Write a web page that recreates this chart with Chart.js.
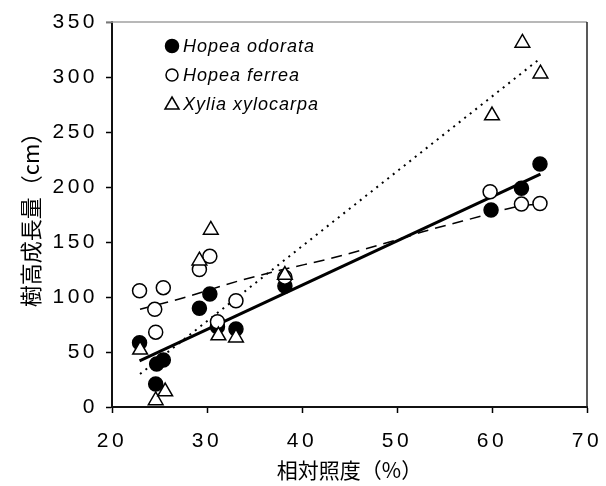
<!DOCTYPE html>
<html><head><meta charset="utf-8">
<script src="https://cdn.jsdelivr.net/npm/chart.js@4/dist/chart.umd.min.js"></script>
<style>html,body{margin:0;padding:0;background:#fff;overflow:hidden}#wrap{width:606px;height:486px;position:relative}</style>
</head><body><div id="wrap"><canvas id="c" width="606" height="486" style="width:606px;height:486px"></canvas></div>
<script>
// Relative light (%) and height growth (cm) per species
const speciesNames = ['Hopea odorata', 'Hopea ferrea', 'Xylia xylocarpa'];
const odorataX = [22.9, 24.7, 25.4, 24.6, 29.2, 30.3, 33.05, 31.1, 38.2, 59.9, 63.1, 65.05];
const odorataY = [58.5, 39, 42.7, 21, 89.7, 102.7, 71, 73, 110, 179, 198.8, 221];
const ferreaX = [22.9, 25.4, 24.5, 24.6, 29.2, 30.3, 33.05, 31.1, 38.2, 59.8, 63.1, 65.05];
const ferreaY = [105.7, 108.5, 88.8, 68, 125, 137, 96.6, 77.5, 118, 195.7, 184.5, 185];
const xyliaX = [22.96, 24.6, 25.6, 29.2, 30.4, 33.05, 31.2, 38.2, 60, 63.2, 65.1];
const xyliaY = [52, 6, 14, 133, 161, 63, 65, 120, 265, 331, 303];
// Trend lines
const odorataTrendX = [22.9, 65.1];
const odorataTrendY = [42, 211.8];
const xyliaTrendX = [22.95, 65.1];
const xyliaTrendY = [30, 317];
const ferreaTrendX = [22.95, 27, 33.5, 38, 43, 50, 53, 59.5, 62, 65.1];
const ferreaTrendY = [88.8, 98, 115, 125, 135, 152, 160, 175, 181, 185];
const xTicks = [20, 30, 40, 50, 60, 70];
const yTicks = [0, 50, 100, 150, 200, 250, 300, 350];
const xTitle = '相対照度（%）';
const yTitle = '樹高成長量（cm）';

const pts = (xs, ys) => xs.map((x, i) => ({x, y: ys[i]}));

// slightly wider letter spacing for tick labels only
const spacingPlugin = {
  id: 'tickSpacing',
  beforeDraw(chart) {
    ['x', 'y'].forEach(id => {
      const s = chart.scales[id];
      if (s && !s._spaced) {
        const orig = s.drawLabels.bind(s);
        s.drawLabels = function (ca) {
          const ctx = this.ctx;
          ctx.save();
          ctx.letterSpacing = '3.5px';
          orig(ca);
          ctx.restore();
        };
        s._spaced = true;
      }
    });
  }
};

const framePlugin = {
  id: 'frame',
  afterDatasetsDraw(chart) {
    const {ctx, chartArea: a} = chart;
    ctx.save();
    ctx.lineWidth = 1.5;
    ctx.strokeStyle = '#a0a0a0';
    ctx.beginPath(); ctx.moveTo(a.left - 6, a.top); ctx.lineTo(a.right, a.top); ctx.stroke();
    ctx.strokeStyle = '#222';
    ctx.beginPath(); ctx.moveTo(a.right, a.top); ctx.lineTo(a.right, a.bottom); ctx.stroke();
    ctx.restore();
  }
};

const legendPlugin = {
  id: 'customLegend',
  afterDraw(chart) {
    const {ctx} = chart;
    const mx = 172, tx = 183;
    const rows = [46, 75, 104];
    ctx.save();
    ctx.font = 'italic 18px "Liberation Sans", Arial, sans-serif';
    ctx.letterSpacing = '1px';
    ctx.textBaseline = 'middle';
    ctx.textAlign = 'left';
    speciesNames.forEach((name, i) => {
      const y = rows[i];
      ctx.lineWidth = 1.5;
      ctx.strokeStyle = '#000';
      ctx.beginPath();
      if (i === 0) { ctx.arc(mx, y, 6.5, 0, Math.PI * 2); ctx.fillStyle = '#000'; ctx.fill(); ctx.stroke(); }
      else if (i === 1) { ctx.arc(mx, y, 6, 0, Math.PI * 2); ctx.fillStyle = '#fff'; ctx.fill(); ctx.stroke(); }
      else { ctx.moveTo(mx, y - 7); ctx.lineTo(mx + 7, y + 5); ctx.lineTo(mx - 7, y + 5); ctx.closePath(); ctx.fillStyle = '#fff'; ctx.fill(); ctx.stroke(); }
      ctx.fillStyle = '#000';
      ctx.fillText(name, tx, y + 1);
    });
    ctx.restore();
  }
};

const tickFont = {family: '"Liberation Sans", Arial, sans-serif', size: 21};
const xTitleFont = {family: '"Noto Sans CJK JP", "Noto Sans CJK SC", sans-serif', size: 21};
const yTitleFont = {family: '"Noto Sans CJK JP", "Noto Sans CJK SC", sans-serif', size: 22};

new Chart(document.getElementById('c'), {
  type: 'scatter',
  data: {
    datasets: [
      {label: 'odorataTrend', data: pts(odorataTrendX, odorataTrendY), showLine: true, pointRadius: 0, borderColor: '#000', borderWidth: 3, order: 5, fill: false},
      {label: 'ferreaTrend', data: pts(ferreaTrendX, ferreaTrendY), showLine: true, pointRadius: 0, borderColor: '#000', borderWidth: 1.5, borderDash: [11, 7], order: 5, fill: false, cubicInterpolationMode: 'monotone'},
      {label: 'xyliaTrend', data: pts(xyliaTrendX, xyliaTrendY), showLine: true, pointRadius: 0, borderColor: '#000', borderWidth: 2, borderDash: [2, 5], order: 5, fill: false},
      {label: speciesNames[0], data: pts(odorataX, odorataY), pointStyle: 'circle', pointRadius: 7, backgroundColor: '#000', borderColor: '#000', borderWidth: 1.5, order: 3},
      {label: speciesNames[1], data: pts(ferreaX, ferreaY), pointStyle: 'circle', pointRadius: 7, backgroundColor: '#fff', borderColor: '#000', borderWidth: 1.5, order: 2},
      {label: speciesNames[2], data: pts(xyliaX, xyliaY), pointStyle: 'triangle', pointRadius: 8.5, backgroundColor: '#fff', borderColor: '#000', borderWidth: 1.5, order: 1}
    ]
  },
  options: {
    responsive: false,
    animation: false,
    devicePixelRatio: 1,
    layout: {padding: {top: 22, right: 19, left: 0, bottom: 0}},
    plugins: {legend: {display: false}, tooltip: {enabled: false}},
    scales: {
      x: {
        type: 'linear', min: 20, max: 70,
        afterBuildTicks: s => { s.ticks = xTicks.map(v => ({value: v})); },
        afterFit: s => { s.height = 79; s.paddingLeft = 0; s.paddingRight = 0; },
        ticks: {font: tickFont, color: '#000', padding: 16, maxRotation: 0},
        grid: {drawOnChartArea: false, tickLength: 6, color: '#000', tickWidth: 1.5},
        border: {color: '#111', width: 2},
        title: {display: true, text: xTitle, font: xTitleFont, color: '#000', padding: {top: 0, bottom: 3}}
      },
      y: {
        type: 'linear', min: 0, max: 350,
        afterBuildTicks: s => { s.ticks = yTicks.map(v => ({value: v})); },
        afterFit: s => { s.width = 112; s.paddingTop = 0; s.paddingBottom = 0; },
        ticks: {font: tickFont, color: '#000', padding: 8},
        grid: {drawOnChartArea: false, tickLength: 6, color: '#000', tickWidth: 1.5},
        border: {color: '#111', width: 2},
        title: {display: true, text: yTitle, font: yTitleFont, color: '#000', padding: {top: 17, bottom: 0}}
      }
    }
  },
  plugins: [spacingPlugin, framePlugin, legendPlugin]
});
</script>
</body></html>
